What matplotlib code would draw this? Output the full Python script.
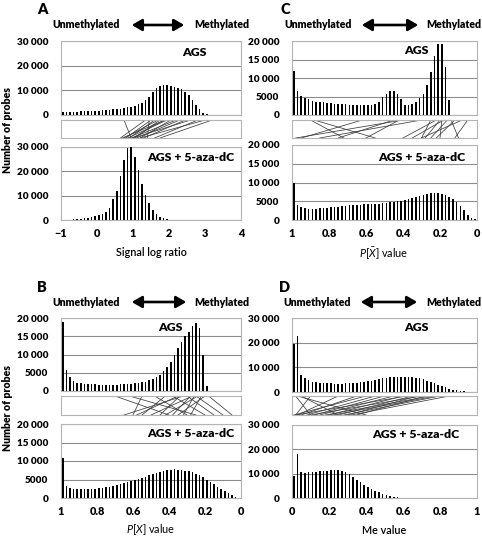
import matplotlib
matplotlib.use("Agg")
import matplotlib.pyplot as plt
from matplotlib.patches import FancyArrowPatch
import numpy as np

plt.rcParams['font.family'] = ['Lato', 'DejaVu Sans']
plt.rcParams['mathtext.fontset'] = 'custom'
plt.rcParams['mathtext.rm'] = 'Lato'
plt.rcParams['mathtext.it'] = 'Lato:italic'

W, H = 482, 537

# ---- data ----
# A: signal log ratio, bins of 0.1 from -1 to 4
a_centers = np.arange(50) * 0.1 - 0.95
a_ags = [1200, 1250, 1300, 1350, 1400, 1450, 1500, 1550, 1600, 1700,
         1800, 1900, 2000, 2100, 2250, 2400, 2600, 2800, 3100, 3400,
         3800, 4300, 5000, 6000, 7500, 9200, 10800, 11800, 12300, 12200,
         11900, 11500, 11000, 10500, 9500, 8000, 6000, 4000, 2300, 1000,
         300, 100, 60, 60, 60, 60, 60, 60, 60, 60]
a_aza = [100, 150, 200, 300, 400, 550, 700, 900, 1200, 1500,
         2000, 2300, 3300, 5000, 8500, 12000, 18000, 24500, 29500, 30000,
         26000, 20500, 14800, 10300, 7000, 4300, 2600, 1400, 800, 400,
         200, 100, 60, 60, 60, 60, 60, 60, 60, 60,
         60, 60, 60, 60, 60, 60, 60, 60, 60, 60]
a_link_top = [0.75, 1.35, 1.5, 1.6, 1.7, 1.75, 1.85, 1.95, 2.05, 2.2, 2.3, 2.45, 2.6, 2.8, 3.0, 3.2, 1.45, 1.9]
a_link_bot = [0.95, 0.65, 0.8, 0.9, 0.75, 1.05, 1.0, 0.85, 1.2, 0.95, 1.1, 1.3, 1.0, 1.6, 1.2, 1.75, 1.4, 0.7]

# B, C, D: bins of 0.02 over [0, 1]
p_centers = np.arange(50) * 0.02 + 0.01

# C: P[X-bar] value (axis reversed), listed from 0.99 down to 0.01
c_ags = [12000, 6500, 5200, 4600, 4200, 3800, 3600, 3500, 3400, 3300,
         3200, 3100, 3000, 3000, 2900, 2800, 2700, 2600, 2600, 2600,
         2700, 2800, 3100, 3600, 4800, 5700, 6500, 6500, 5800, 4300,
         2800, 2800, 3000, 3500, 4500, 5600, 8000, 11500, 16000, 19300,
         19300, 13000, 4000, 60, 60, 60, 60, 60, 60, 60]
c_aza = [10000, 3900, 3400, 3100, 3000, 3000, 3000, 3100, 3200, 3300,
         3400, 3500, 3600, 3700, 3800, 3900, 4000, 4050, 4100, 4150,
         4200, 4250, 4300, 4400, 4500, 4600, 4700, 4850, 5000, 5200,
         5400, 5600, 5900, 6200, 6500, 6800, 7000, 7200, 7200, 7200,
         7000, 6700, 6200, 5500, 4700, 3700, 2600, 1400, 600, 150]
c_link_top = [0.90, 0.88, 0.62, 0.45, 0.42, 0.40, 0.30, 0.25, 0.22, 0.20, 0.19, 0.18, 0.16, 0.14, 0.12, 0.08, 0.05]
c_link_bot = [0.72, 0.55, 0.95, 0.75, 0.60, 0.98, 0.85, 0.30, 0.40, 0.28, 0.20, 0.35, 0.25, 0.10, 0.22, 0.30, 0.12]

# B: P[X] value (axis reversed), listed from 0.99 down to 0.01
b_ags = [18800, 5800, 3700, 2800, 2300, 2100, 2000, 1900, 1850, 1800,
         1750, 1700, 1700, 1700, 1700, 1750, 1800, 1850, 1900, 2000,
         2100, 2250, 2400, 2600, 2900, 3300, 3800, 4500, 5400, 6500,
         8000, 9900, 11700, 13300, 15100, 16300, 17800, 18600, 17300, 10000,
         1500, 60, 60, 60, 60, 60, 60, 60, 60, 60]
b_aza = [10700, 3200, 2600, 2400, 2300, 2300, 2300, 2350, 2400, 2500,
         2600, 2700, 2850, 3000, 3200, 3400, 3700, 4000, 4300, 4600,
         4900, 5200, 5500, 5800, 6100, 6400, 6700, 7000, 7300, 7500,
         7700, 7800, 7700, 7600, 7400, 7200, 6900, 6500, 6100, 5600,
         5000, 4400, 3800, 3100, 2500, 1900, 1300, 700, 300, 100]
b_link_top = [0.70, 0.62, 0.55, 0.48, 0.42, 0.38, 0.34, 0.32, 0.30, 0.28, 0.27, 0.26, 0.25, 0.24, 0.22, 0.20, 0.18, 0.35]
b_link_bot = [0.40, 0.25, 0.60, 0.30, 0.55, 0.20, 0.45, 0.65, 0.15, 0.38, 0.50, 0.32, 0.10, 0.42, 0.28, 0.35, 0.05, 0.58]

# D: Me value, listed from 0.01 up to 0.99
d_ags = [19500, 22900, 6800, 5500, 4700, 4200, 3900, 3700, 3600, 3500,
         3500, 3400, 3400, 3400, 3500, 3500, 3600, 3700, 3900, 4100,
         4300, 4600, 4900, 5200, 5500, 5800, 6000, 6100, 6200, 6200,
         6200, 6100, 6000, 5800, 5500, 5100, 4600, 4100, 3500, 3000,
         2400, 1900, 1400, 1000, 700, 500, 300, 200, 100, 60]
d_aza = [9000, 18000, 10500, 10300, 10500, 10600, 10800, 11000, 11200, 11300,
         11400, 11500, 11500, 11200, 10700, 9800, 8700, 7600, 6500, 5500,
         4500, 3700, 3000, 2300, 1700, 1200, 800, 500, 300, 200,
         100, 60, 60, 60, 60, 60, 60, 60, 60, 60,
         60, 60, 60, 60, 60, 60, 60, 60, 60, 60]
d_link_top = [0.02, 0.03, 0.05, 0.10, 0.25, 0.35, 0.45, 0.50, 0.55, 0.60, 0.62, 0.65, 0.68, 0.70, 0.72, 0.75, 0.78, 0.80, 0.85, 0.40]
d_link_bot = [0.10, 0.40, 0.25, 0.02, 0.03, 0.05, 0.08, 0.12, 0.15, 0.20, 0.02, 0.25, 0.30, 0.10, 0.35, 0.18, 0.22, 0.28, 0.32, 0.01]

fig = plt.figure(figsize=(W / 100, H / 100), dpi=100)
BOX = '#b4b4b4'
GRID = '#8c8c8c'
BOLD = 'heavy'


def px_axes(l, t, r, b):
    return fig.add_axes([l / W, 1 - b / H, (r - l) / W, (b - t) / H])


def ftext(x, y, s, **kw):
    fig.text(x / W, 1 - y / H, s, **kw)


def fmt(v):
    v = int(v)
    return "{:,}".format(v).replace(",", " ") if v >= 10000 else str(v)


def hist(box, centers, values, ymax, ystep, xlim, width, label, lab_xy, xticks=None, xticklabels=None):
    ax = px_axes(*box)
    ax.bar(centers, values, width=width, color='black', zorder=3)
    ax.set_xlim(*xlim)
    ax.set_ylim(0, ymax)
    yt = np.arange(0, ymax + 1, ystep)
    ax.set_yticks(yt)
    ax.set_yticklabels([fmt(v) for v in yt], fontsize=7.2, fontweight=BOLD)
    ax.yaxis.grid(True, color=GRID, lw=0.8, zorder=0)
    ax.set_axisbelow(True)
    ax.tick_params(length=0, pad=9)
    for s in ax.spines.values():
        s.set_color(BOX)
        s.set_linewidth(0.8)
    if xticks is None:
        ax.set_xticks([])
    else:
        ax.set_xticks(xticks)
        ax.set_xticklabels(xticklabels, fontsize=7.8, fontweight=BOLD)
        ax.tick_params(axis='x', pad=6)
    ax.text(lab_xy[0], lab_xy[1], label, transform=ax.transAxes, fontsize=8.8,
            fontweight=BOLD, ha='center', va='center')
    return ax


def links(box, xlim, top, bot):
    ax = px_axes(*box)
    for t, b in zip(top, bot):
        ax.plot([t, b], [1, 0], color='#3c3c3c', lw=0.55)
    ax.set_xlim(*xlim)
    ax.set_ylim(0, 1)
    ax.set_xticks([])
    ax.set_yticks([])
    for s in ax.spines.values():
        s.set_color(BOX)
        s.set_linewidth(0.8)


def header(letter, lx, y, x_unm, x_a0, x_a1, x_me):
    ftext(lx, y - 15, letter, fontsize=10.5, fontweight=BOLD, ha='center', va='center')
    ftext(x_unm, y, 'Unmethylated', fontsize=7.6, fontweight=BOLD, ha='center', va='center')
    ftext(x_me, y, 'Methylated', fontsize=7.6, fontweight=BOLD, ha='center', va='center')
    fig.patches.append(FancyArrowPatch((x_a0 / W, 1 - y / H), (x_a1 / W, 1 - y / H),
                                       transform=fig.transFigure,
                                       arrowstyle='<|-|>,head_length=6,head_width=3.5',
                                       color='black', lw=1.9, mutation_scale=1))


# ---- panel A ----
header('A', 42, 25, 86, 129, 187, 222)
hist((61, 41, 241, 115), a_centers, a_ags, 30000, 10000, (-1, 4), 0.045, 'AGS', (0.74, 0.85))
links((61, 120, 241, 138), (-1, 4), a_link_top, a_link_bot)
hist((61, 147, 241, 220), a_centers, a_aza, 30000, 10000, (-1, 4), 0.045, 'AGS + 5-aza-dC', (0.72, 0.85),
     [-1, 0, 1, 2, 3, 4], ['\u22121', '0', '1', '2', '3', '4'])
ftext(151, 253, 'Signal log ratio', fontsize=7.8, fontweight='semibold', ha='center', va='center')

# ---- panel C ----
header('C', 285, 25, 318, 359, 421, 454)
hist((292, 41, 477, 115), 1 - p_centers, c_ags, 20000, 5000, (1, 0), 0.009, 'AGS', (0.67, 0.87))
links((292, 120, 477, 138), (1, 0), c_link_top, c_link_bot)
hist((292, 145, 477, 220), 1 - p_centers, c_aza, 20000, 5000, (1, 0), 0.009, 'AGS + 5-aza-dC', (0.70, 0.83),
     [1, 0.8, 0.6, 0.4, 0.2, 0], ['1', '0.8', '0.6', '0.4', '0.2', '0'])
ftext(384, 253, r'$P[\bar{X}]$ value', fontsize=7.8, ha='center', va='center')

# ---- panel B ----
header('B', 42, 302, 86, 129, 189, 222)
hist((61, 318, 241, 391), 1 - p_centers, b_ags, 20000, 5000, (1, 0), 0.009, 'AGS', (0.61, 0.87))
links((61, 396, 241, 415), (1, 0), b_link_top, b_link_bot)
hist((61, 424, 241, 498), 1 - p_centers, b_aza, 20000, 5000, (1, 0), 0.009, 'AGS + 5-aza-dC', (0.72, 0.87),
     [1, 0.8, 0.6, 0.4, 0.2, 0], ['1', '0.8', '0.6', '0.4', '0.2', '0'])
ftext(151, 530, r'$P[X]$ value', fontsize=7.8, ha='center', va='center')

# ---- panel D ----
header('D', 285, 302, 317, 358, 420, 454)
hist((292, 318, 477, 392), p_centers, d_ags, 30000, 10000, (0, 1), 0.009, 'AGS', (0.67, 0.87))
links((292, 396, 477, 415), (0, 1), d_link_top, d_link_bot)
hist((292, 425, 477, 498), p_centers, d_aza, 30000, 10000, (0, 1), 0.009, 'AGS + 5-aza-dC', (0.67, 0.87),
     [0, 0.2, 0.4, 0.6, 0.8, 1], ['0', '0.2', '0.4', '0.6', '0.8', '1'])
ftext(384, 530, 'Me value', fontsize=7.8, fontweight='semibold', ha='center', va='center')

# y labels
ftext(8, 130, 'Number of probes', fontsize=7.6, fontweight=BOLD, rotation=90, ha='center', va='center')
ftext(8, 408, 'Number of probes', fontsize=7.6, fontweight=BOLD, rotation=90, ha='center', va='center')

fig.savefig('out.png', dpi=100)
